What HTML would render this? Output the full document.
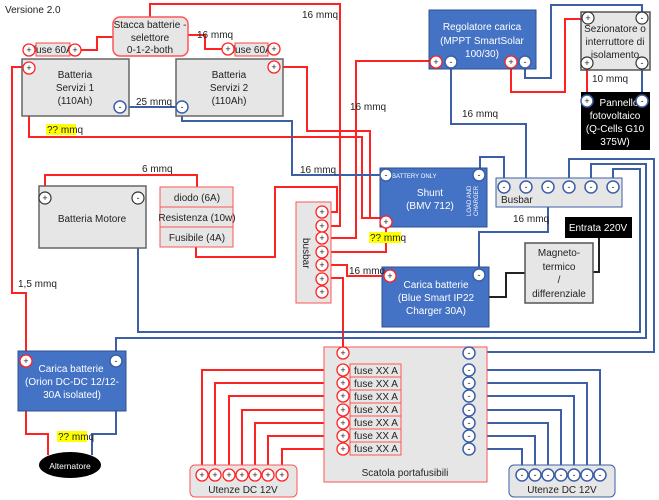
<!DOCTYPE html>
<html><head><meta charset="utf-8"><style>
html,body{margin:0;padding:0;background:#fff}
svg{display:block;font-family:"Liberation Sans","DejaVu Sans",sans-serif}
</style></head><body>
<svg width="659" height="500" viewBox="0 0 659 500" xmlns="http://www.w3.org/2000/svg">
<defs>
<style>
.r{fill:none;stroke:#f22;stroke-width:2}
.b{fill:none;stroke:#3c5fa8;stroke-width:2}
.k{fill:none;stroke:#222;stroke-width:2}
.t{font-size:10px;fill:#222}
.w{font-size:10px;fill:#fff}
</style>
</defs>
<text x="5" y="13" class="t" font-size="9">Versione 2.0</text>

<polyline class="r" points="150,17 150,4 340,4 340,226 322,226"/>
<polyline class="r" points="113,37 97,37 97,50 80,50"/>
<polyline class="r" points="188,35 205,35 205,49 228,49"/>
<polyline class="r" points="23,67 12,67 12,293 26,293 26,361"/>
<polyline class="r" points="29,68 29,137 362,137 362,218 386,218"/>
<polyline class="r" points="274,67 307,67 307,131 370,131 370,218"/>
<polyline class="r" points="436,61 356,61 356,238 322,238"/>
<polyline class="r" points="386,222 386,252 322,252"/>
<polyline class="r" points="322,265 347,265 347,276 390,276"/>
<polyline class="r" points="322,278 343,278 343,352"/>
<polyline class="r" points="322,212 337,212 337,187 275,187 275,257 196,257 196,247"/>
<polyline class="r" points="45,197 45,175 197,175 197,187"/>
<polyline class="r" points="511,61 511,92 565,92 565,19 588,19"/>
<line class="r" x1="587" y1="63" x2="587" y2="100"/>
<polyline class="r" points="26,361 26,434 48,434 48,455"/>
<g class="r">
<polyline points="343,370 202,370 202,475"/>
<polyline points="343,383 215,383 215,475"/>
<polyline points="343,396 229,396 229,475"/>
<polyline points="343,410 242,410 242,475"/>
<polyline points="343,423 255,423 255,475"/>
<polyline points="343,436 268,436 268,475"/>
<polyline points="343,449 282,449 282,475"/>
</g>

<line class="b" x1="120" y1="107" x2="182" y2="107"/>
<polyline class="b" points="182,107 182,121 292,121 292,175 386,175"/>
<polyline class="b" points="138,197 138,332 640,332 640,169 613,169 613,187"/>
<polyline class="b" points="116,361 116,338 646,338 646,164 591,164 591,187"/>
<polyline class="b" points="469,352 654,352 654,159 569,159 569,187"/>
<polyline class="b" points="504,187 504,157 480,157 480,175"/>
<polyline class="b" points="526,187 526,124 451,124 451,61"/>
<polyline class="b" points="548,187 548,232 479,232 479,275"/>
<polyline class="b" points="525,61 525,78 551,78 551,5 642,5 642,17"/>
<line class="b" x1="642" y1="63" x2="642" y2="100"/>
<polyline class="b" points="116,361 116,434 92,434 92,455"/>
<g class="b">
<polyline points="469,370 600,370 600,475"/>
<polyline points="469,383 587,383 587,475"/>
<polyline points="469,396 574,396 574,475"/>
<polyline points="469,410 561,410 561,475"/>
<polyline points="469,423 548,423 548,475"/>
<polyline points="469,436 535,436 535,475"/>
<polyline points="469,449 522,449 522,475"/>
</g>
<polyline class="k" points="489,297 506,297 506,273 525,273"/>
<polyline class="k" points="599,238 599,272 593,272"/>

<rect x="113" y="17" width="75" height="39" rx="7" fill="#e6e6e6" stroke="#f55" stroke-width="1.5"/>
<text x="150" y="28" class="t" font-size="9.5" text-anchor="middle">Stacca batterie -</text>
<text x="150" y="41" class="t" font-size="9.5" text-anchor="middle">selettore</text>
<text x="150" y="53" class="t" font-size="9.5" text-anchor="middle">0-1-2-both</text>
<rect x="36" y="43" width="34" height="13" fill="#e6e6e6" stroke="#f44"/>
<text x="53" y="53" class="t" font-size="8" text-anchor="middle">fuse 60A</text>
<rect x="235" y="43" width="33" height="13" fill="#e6e6e6" stroke="#f44"/>
<text x="252" y="53" class="t" font-size="8" text-anchor="middle">fuse 60A</text>

<rect x="22" y="59" width="107" height="57" fill="#e6e6e6" stroke="#666" stroke-width="1.5"/>
<text x="75" y="78" class="t" text-anchor="middle">Batteria</text>
<text x="75" y="91" class="t" text-anchor="middle">Servizi 1</text>
<text x="75" y="104" class="t" text-anchor="middle">(110Ah)</text>
<rect x="176" y="59" width="107" height="57" fill="#e6e6e6" stroke="#666" stroke-width="1.5"/>
<text x="229" y="78" class="t" text-anchor="middle">Batteria</text>
<text x="229" y="91" class="t" text-anchor="middle">Servizi 2</text>
<text x="229" y="104" class="t" text-anchor="middle">(110Ah)</text>

<rect x="39" y="186" width="107" height="62" fill="#e6e6e6" stroke="#666" stroke-width="1.5"/>
<text x="92" y="222" class="t" text-anchor="middle">Batteria Motore</text>
<rect x="160" y="187" width="73" height="20" fill="#e6e6e6" stroke="#f55"/>
<text x="197" y="201" class="t" text-anchor="middle">diodo (6A)</text>
<rect x="160" y="207" width="73" height="20" fill="#e6e6e6" stroke="#f55"/>
<text x="197" y="221" class="t" text-anchor="middle" font-size="9.5">Resistenza (10w)</text>
<rect x="160" y="227" width="73" height="20" fill="#e6e6e6" stroke="#f55"/>
<text x="197" y="241" class="t" text-anchor="middle">Fusibile (4A)</text>

<rect x="429" y="10" width="107" height="59" fill="#4472c4" stroke="#2f528f"/>
<text x="482" y="30" class="w" text-anchor="middle">Regolatore carica</text>
<text x="482" y="44" class="w" text-anchor="middle">(MPPT SmartSolar</text>
<text x="482" y="57" class="w" text-anchor="middle">100/30)</text>

<rect x="581" y="12" width="69" height="58" fill="#e6e6e6" stroke="#555" stroke-width="1.5"/>
<text x="615" y="32" class="t" font-size="9.5" text-anchor="middle">Sezionatore o</text>
<text x="615" y="45" class="t" font-size="9.5" text-anchor="middle">interruttore di</text>
<text x="615" y="58" class="t" font-size="9.5" text-anchor="middle">isolamento</text>
<rect x="581" y="92" width="69" height="58" fill="#000"/>
<text x="619" y="106" class="w" font-size="9.5" text-anchor="middle">Pannello</text>
<text x="615" y="119" class="w" font-size="9.5" text-anchor="middle">fotovoltaico</text>
<text x="615" y="132" class="w" font-size="9.5" text-anchor="middle">(Q-Cells G10</text>
<text x="615" y="145" class="w" font-size="9.5" text-anchor="middle">375W)</text>

<rect x="380" y="168" width="107" height="59" fill="#4472c4" stroke="#2f528f"/>
<text x="392" y="178" font-size="6" fill="#fff">BATTERY ONLY</text>
<text x="430" y="196" class="w" text-anchor="middle">Shunt</text>
<text x="430" y="209" class="w" text-anchor="middle">(BMV 712)</text>
<text transform="translate(471,216) rotate(-90)" font-size="6" fill="#fff">LOAD AND</text>
<text transform="translate(478,216) rotate(-90)" font-size="6" fill="#fff">CHARGER</text>

<rect x="496" y="178" width="126" height="29" fill="#e6e6e6" stroke="#3c5fa8"/>
<text x="501" y="203" class="t">Busbar</text>

<rect x="296" y="202" width="35" height="101" fill="#e6e6e6" stroke="#f55"/>
<text transform="translate(303,238) rotate(90)" class="t">busbar</text>

<rect x="382" y="267" width="107" height="60" fill="#4472c4" stroke="#2f528f"/>
<text x="436" y="288" class="w" text-anchor="middle">Carica batterie</text>
<text x="436" y="301" class="w" text-anchor="middle">(Blue Smart IP22</text>
<text x="436" y="314" class="w" text-anchor="middle">Charger 30A)</text>

<rect x="565" y="217" width="67" height="21" fill="#000"/>
<text x="598" y="231" class="w" text-anchor="middle">Entrata 220V</text>
<rect x="525" y="243" width="68" height="60" fill="#e6e6e6" stroke="#555" stroke-width="1.5"/>
<text x="559" y="256" class="t" text-anchor="middle">Magneto-</text>
<text x="559" y="270" class="t" text-anchor="middle">termico</text>
<text x="559" y="283" class="t" text-anchor="middle">/</text>
<text x="559" y="297" class="t" text-anchor="middle">differenziale</text>

<rect x="18" y="351" width="108" height="60" fill="#4472c4" stroke="#2f528f"/>
<text x="71" y="372" class="w" text-anchor="middle">Carica batterie</text>
<text x="72" y="385" class="w" text-anchor="middle">(Orion DC-DC 12/12-</text>
<text x="72" y="398" class="w" text-anchor="middle">30A isolated)</text>
<ellipse cx="70" cy="465" rx="31" ry="13" fill="#000"/>
<text x="70" y="469" font-size="8.5" fill="#fff" text-anchor="middle">Alternatore</text>

<rect x="324" y="347" width="163" height="135" fill="#e6e6e6" stroke="#f55"/>
<text x="405" y="476" class="t" text-anchor="middle">Scatola portafusibili</text>
<g fill="#e6e6e6" stroke="#f55">
<rect x="350" y="364" width="51" height="13"/><rect x="350" y="377" width="51" height="13"/>
<rect x="350" y="390" width="51" height="13"/><rect x="350" y="403" width="51" height="13"/>
<rect x="350" y="416" width="51" height="13"/><rect x="350" y="429" width="51" height="13"/>
<rect x="350" y="442" width="51" height="13"/>
</g>
<g class="t" font-size="8.5" text-anchor="middle">
<text x="376" y="374">fuse XX A</text><text x="376" y="387">fuse XX A</text>
<text x="376" y="400">fuse XX A</text><text x="376" y="413">fuse XX A</text>
<text x="376" y="426">fuse XX A</text><text x="376" y="439">fuse XX A</text>
<text x="376" y="452">fuse XX A</text>
</g>
<rect x="190" y="465" width="107" height="32" rx="5" fill="#e6e6e6" stroke="#f55"/>
<text x="243" y="493" class="t" text-anchor="middle">Utenze DC 12V</text>
<rect x="509" y="465" width="106" height="32" rx="5" fill="#e6e6e6" stroke="#3c5fa8"/>
<text x="562" y="493" class="t" text-anchor="middle">Utenze DC 12V</text>

<g class="t" font-size="9">
<text x="302" y="18">16 mmq</text>
<text x="197" y="38">16 mmq</text>
<text x="136" y="105">25 mmq</text>
<text x="350" y="110">16 mmq</text>
<text x="462" y="117">16 mmq</text>
<text x="300" y="173">16 mmq</text>
<text x="142" y="172">6 mmq</text>
<text x="592" y="82">10 mmq</text>
<text x="513" y="222">16 mmq</text>
<text x="349" y="274">16 mmq</text>
<text x="18" y="287">1,5 mmq</text>
</g>
<rect x="46" y="124" width="30" height="11" fill="#ff0"/>
<text x="47" y="133" class="t" font-size="9">?? mmq</text>
<rect x="369" y="232" width="32" height="11" fill="#ff0"/>
<text x="370" y="241" class="t" font-size="9">?? mmq</text>
<rect x="57" y="431" width="30" height="11" fill="#ff0"/>
<text x="58" y="440" class="t" font-size="9">?? mmq</text>

<g font-size="9" text-anchor="middle" fill="#222">
<g fill="#fff" stroke="#f22" stroke-width="1.3">
<circle cx="29" cy="50" r="6"/><circle cx="75" cy="50" r="6"/>
<circle cx="228" cy="49" r="6"/><circle cx="274" cy="49" r="6"/>
<circle cx="29" cy="68" r="6"/><circle cx="274" cy="67" r="6"/>
<circle cx="436" cy="62" r="6"/><circle cx="511" cy="62" r="6"/>
<circle cx="386" cy="222" r="6"/><circle cx="390" cy="276" r="6"/>
<circle cx="26" cy="361" r="6"/>
<circle cx="322" cy="212" r="6"/><circle cx="322" cy="226" r="6"/><circle cx="322" cy="238" r="6"/>
<circle cx="322" cy="252" r="6"/><circle cx="322" cy="265" r="6"/><circle cx="322" cy="279" r="6"/>
<circle cx="322" cy="292" r="6"/>
<circle cx="343" cy="353" r="6"/><circle cx="343" cy="370" r="6"/><circle cx="343" cy="383" r="6"/>
<circle cx="343" cy="396" r="6"/><circle cx="343" cy="410" r="6"/><circle cx="343" cy="423" r="6"/>
<circle cx="343" cy="436" r="6"/><circle cx="343" cy="449" r="6"/>
<circle cx="202" cy="475" r="6"/><circle cx="215" cy="475" r="6"/><circle cx="229" cy="475" r="6"/>
<circle cx="242" cy="475" r="6"/><circle cx="255" cy="475" r="6"/><circle cx="268" cy="475" r="6"/>
<circle cx="282" cy="475" r="6"/>
</g>
<g fill="#fff" stroke="#333" stroke-width="1.2">
<circle cx="588" cy="18" r="6"/><circle cx="642" cy="18" r="6"/>
<circle cx="587" cy="63" r="6"/><circle cx="642" cy="63" r="6"/>
<circle cx="45" cy="198" r="6"/><circle cx="138" cy="198" r="6"/>
</g>
<g fill="#fff" stroke="#3c5fa8" stroke-width="1.5">
<circle cx="120" cy="107" r="6"/><circle cx="182" cy="107" r="6"/>
<circle cx="451" cy="62" r="6"/><circle cx="525" cy="62" r="6"/>
<circle cx="587" cy="101" r="6"/><circle cx="642" cy="101" r="6"/>
<circle cx="386" cy="175" r="6"/><circle cx="479" cy="175" r="6"/>
<circle cx="479" cy="275" r="6"/><circle cx="116" cy="361" r="6"/>
<circle cx="504" cy="187" r="6"/><circle cx="526" cy="187" r="6"/><circle cx="548" cy="187" r="6"/>
<circle cx="569" cy="187" r="6"/><circle cx="591" cy="187" r="6"/><circle cx="613" cy="187" r="6"/>
<circle cx="469" cy="353" r="6"/><circle cx="469" cy="370" r="6"/><circle cx="469" cy="383" r="6"/>
<circle cx="469" cy="396" r="6"/><circle cx="469" cy="410" r="6"/><circle cx="469" cy="423" r="6"/>
<circle cx="469" cy="436" r="6"/><circle cx="469" cy="449" r="6"/>
<circle cx="522" cy="475" r="6"/><circle cx="535" cy="475" r="6"/><circle cx="548" cy="475" r="6"/>
<circle cx="561" cy="475" r="6"/><circle cx="574" cy="475" r="6"/><circle cx="587" cy="475" r="6"/>
<circle cx="600" cy="475" r="6"/>
</g>
<g>
<text x="29" y="53">+</text><text x="75" y="53">+</text><text x="228" y="52">+</text><text x="274" y="52">+</text>
<text x="29" y="71">+</text><text x="274" y="70">+</text><text x="436" y="65">+</text><text x="511" y="65">+</text>
<text x="386" y="225">+</text><text x="390" y="279">+</text><text x="26" y="364">+</text>
<text x="322" y="215">+</text><text x="322" y="229">+</text><text x="322" y="241">+</text><text x="322" y="255">+</text>
<text x="322" y="268">+</text><text x="322" y="282">+</text><text x="322" y="295">+</text>
<text x="343" y="356">+</text><text x="343" y="373">+</text><text x="343" y="386">+</text><text x="343" y="399">+</text>
<text x="343" y="413">+</text><text x="343" y="426">+</text><text x="343" y="439">+</text><text x="343" y="452">+</text>
<text x="202" y="478">+</text><text x="215" y="478">+</text><text x="229" y="478">+</text><text x="242" y="478">+</text>
<text x="255" y="478">+</text><text x="268" y="478">+</text><text x="282" y="478">+</text>
<text x="588" y="21">+</text><text x="587" y="66">+</text><text x="45" y="201">+</text><text x="587" y="104">+</text>
<text x="642" y="21">-</text><text x="642" y="66">-</text><text x="138" y="201">-</text>
<text x="120" y="110">-</text><text x="182" y="110">-</text><text x="451" y="65">-</text><text x="525" y="65">-</text>
<text x="642" y="104">-</text><text x="386" y="178">-</text><text x="479" y="178">-</text><text x="479" y="278">-</text>
<text x="116" y="364">-</text>
<text x="504" y="190">-</text><text x="526" y="190">-</text><text x="548" y="190">-</text>
<text x="569" y="190">-</text><text x="591" y="190">-</text><text x="613" y="190">-</text>
<text x="469" y="356">-</text><text x="469" y="373">-</text><text x="469" y="386">-</text><text x="469" y="399">-</text>
<text x="469" y="413">-</text><text x="469" y="426">-</text><text x="469" y="439">-</text><text x="469" y="452">-</text>
<text x="522" y="478">-</text><text x="535" y="478">-</text><text x="548" y="478">-</text><text x="561" y="478">-</text>
<text x="574" y="478">-</text><text x="587" y="478">-</text><text x="600" y="478">-</text>
</g>
</g>
</svg>
</body></html>
